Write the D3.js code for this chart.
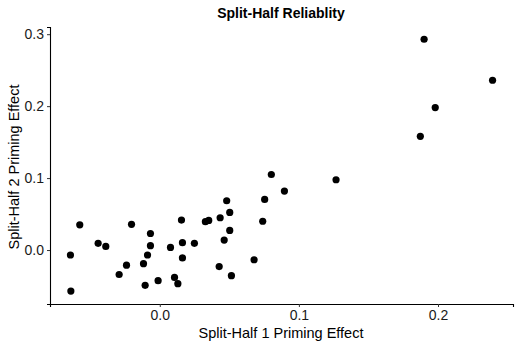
<!DOCTYPE html>
<html>
<head>
<meta charset="utf-8">
<script src="https://cdn.jsdelivr.net/npm/d3@7"></script>
<style>
  body { margin: 0; background: #fff; }
  text { font-family: "Liberation Sans", Arial, sans-serif; }
</style>
</head>
<body>
<div id="chart"></div>
<script>
// split-half priming effects
const half1 = [-0.0642, -0.0639, -0.0575, -0.0443, -0.0388, -0.0292, -0.0239, -0.0203, -0.0117, -0.0105,
  -0.0088, -0.0067, -0.0067, -0.0012, 0.0077, 0.0106, 0.0130, 0.0156, 0.0163, 0.0163,
  0.0249, 0.0328, 0.0352, 0.0434, 0.0427, 0.0463, 0.0481, 0.0503, 0.0503, 0.0515,
  0.0802, 0.1267, 0.0896, 0.0754, 0.0740, 0.0678, 0.1900, 0.2392, 0.1980, 0.1873]
const half2 = [-0.0069, -0.0570, 0.0350, 0.0093, 0.0050, -0.0340, -0.0210, 0.0357, -0.0190, -0.0490,
  -0.0069, 0.0230, 0.0060, -0.0426, 0.0037, -0.0380, -0.0468, 0.0417, 0.0102, -0.0110,
  0.0093, 0.0394, 0.0412, 0.0449, -0.0230, 0.0139, 0.0685, 0.0523, 0.0273, -0.0357,
  0.1050, 0.0977, 0.0820, 0.0704, 0.0400, -0.0135, 0.2930, 0.2360, 0.1980, 0.1580]
const xTicks = [0.0, 0.1, 0.2]
const yTicks = [0.0, 0.1, 0.2, 0.3]

const W = 520, H = 347
const margin = {top: 27, right: 7, bottom: 43, left: 50}

const svg = d3.select("#chart").append("svg")
  .attr("width", W).attr("height", H)

const x = d3.scaleLinear()
  .domain([-0.0789, 0.2539])
  .range([margin.left, W - margin.right])
const y = d3.scaleLinear()
  .domain([-0.075, 0.31])
  .range([H - margin.bottom, margin.top])

// axes
svg.append("g")
  .attr("transform", `translate(0,${H - margin.bottom})`)
  .call(d3.axisBottom(x).tickValues(xTicks).tickFormat(d3.format(".1f")).tickSizeOuter(0).tickSize(3).tickPadding(3))
svg.append("g")
  .attr("transform", `translate(${margin.left},0)`)
  .call(d3.axisLeft(y).tickValues(yTicks).tickFormat(d3.format(".1f")).tickSizeOuter(0).tickSize(3).tickPadding(3))

svg.selectAll(".domain").attr("stroke", "#000").attr("stroke-width", 1.1)
svg.selectAll(".tick line").attr("stroke", "#333")
svg.selectAll(".tick text")
  .attr("fill", "#1a1a1a")
  .style("font-size", "14px")

// points
svg.append("g").selectAll("circle")
  .data(half1.map((d, i) => [d, half2[i]]))
  .join("circle")
    .attr("cx", d => x(d[0]))
    .attr("cy", d => y(d[1]))
    .attr("r", 3.6)
    .attr("fill", "#000")

// titles
svg.append("text")
  .attr("x", 281).attr("y", 18)
  .attr("text-anchor", "middle")
  .style("font-size", "14px")
  .style("font-weight", "bold")
  .text("Split-Half Reliablity")

svg.append("text")
  .attr("x", 281).attr("y", 338)
  .attr("text-anchor", "middle")
  .style("font-size", "14.5px")
  .text("Split-Half 1 Priming Effect")

svg.append("text")
  .attr("transform", "rotate(-90)")
  .attr("x", -167).attr("y", 19)
  .attr("text-anchor", "middle")
  .style("font-size", "14.5px")
  .text("Split-Half 2 Priming Effect")
</script>
</body>
</html>
